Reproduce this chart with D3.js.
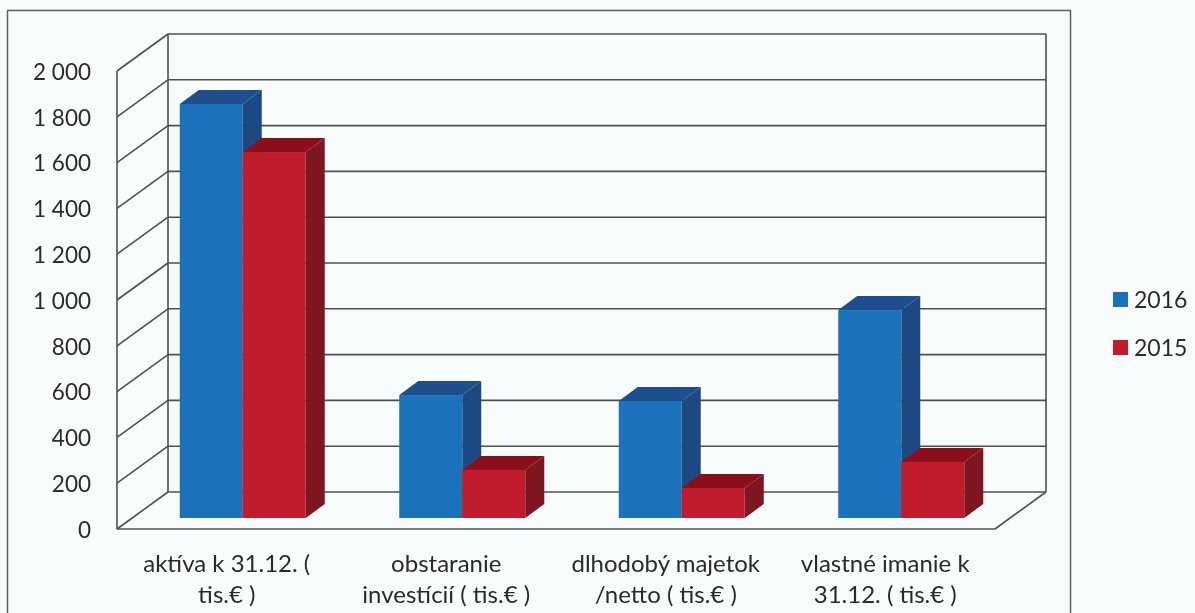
<!DOCTYPE html>
<html>
<head>
<meta charset="utf-8">
<script src="https://cdn.jsdelivr.net/npm/d3@7"></script>
<style>
  html, body { margin: 0; padding: 0; background: #f8fcfd; overflow: hidden; }
  text { font-family: Lato, "Open Sans", sans-serif; fill: #2b2b2b; }
</style>
</head>
<body>
<div id="chart"></div>
<script>
// data
const categories = ["aktíva", "obstaranie", "dlhodobý", "vlastné"];
const categoryLines = [
  ["aktíva k 31.12. (", "tis.€ )"],
  ["obstaranie", "investícií ( tis.€ )"],
  ["dlhodobý majetok", "/netto ( tis.€ )"],
  ["vlastné imanie k", "31.12. ( tis.€ )"]
];
const seriesNames = ["2016", "2015"];
const values2016 = [1808, 537, 511, 908];
const values2015 = [1598, 210, 131, 245];
const yTicks = [0, 200, 400, 600, 800, 1000, 1200, 1400, 1600, 1800, 2000];

const colors = {
  "2016": { front: "#1b71bb", side: "#1f4a82", top: "#1e4f8c" },
  "2015": { front: "#c01a2e", side: "#7e1522", top: "#8c0f1e" }
};

const width = 1195, height = 613;

// depth of the 3d box, and of the bars inside it
const depth = { x: 51, y: -37 };
const barOffset = { x: 16, y: -11 };
const barDepth = { x: 19, y: -14 };

const svg = d3.select("#chart").append("svg")
  .attr("width", width)
  .attr("height", height)
  .style("display", "block");

const defs = svg.append("defs");
defs.append("filter").attr("id", "scan")
  .append("feGaussianBlur").attr("stdDeviation", 0.45);

const root = svg.append("g").attr("filter", "url(#scan)");

const x0 = d3.scaleBand().domain(categories).range([117, 995]);
const x1 = d3.scaleBand().domain(seriesNames).range([0, 126]);
const y = d3.scaleLinear().domain([0, 2000]).range([529, 71]);

// outer frame, runs off the bottom of the page
root.append("rect")
  .attr("x", 7.5).attr("y", 10.5)
  .attr("width", 1063).attr("height", 640)
  .attr("fill", "none")
  .attr("stroke", "#5f5f5f")
  .attr("stroke-width", 1.5);

// 3d walls
const grid = root.append("g")
  .attr("fill", "none")
  .attr("stroke", "#505050")
  .attr("stroke-width", 1.6);

yTicks.forEach(t => {
  // back wall
  grid.append("line")
    .attr("x1", x0.range()[0] + depth.x).attr("x2", x0.range()[1] + depth.x)
    .attr("y1", y(t) + depth.y).attr("y2", y(t) + depth.y);
  // side wall
  grid.append("line")
    .attr("x1", x0.range()[0]).attr("x2", x0.range()[0] + depth.x)
    .attr("y1", y(t)).attr("y2", y(t) + depth.y);
});

grid.append("line")
  .attr("x1", x0.range()[0]).attr("x2", x0.range()[0])
  .attr("y1", y(0)).attr("y2", y(2000));
grid.append("line")
  .attr("x1", x0.range()[0] + depth.x).attr("x2", x0.range()[0] + depth.x)
  .attr("y1", y(0) + depth.y).attr("y2", y(2000) + depth.y);
grid.append("line")
  .attr("x1", x0.range()[1] + depth.x).attr("x2", x0.range()[1] + depth.x)
  .attr("y1", y(0) + depth.y).attr("y2", y(2000) + depth.y);
// floor
grid.append("line")
  .attr("x1", x0.range()[0]).attr("x2", x0.range()[1])
  .attr("y1", y(0)).attr("y2", y(0));
grid.append("line")
  .attr("x1", x0.range()[1]).attr("x2", x0.range()[1] + depth.x)
  .attr("y1", y(0)).attr("y2", y(0) + depth.y);

// y axis labels
const yAxis = d3.axisLeft(y)
  .tickValues(yTicks)
  .tickSize(0)
  .tickPadding(26)
  .tickFormat(d => d3.format(",")(d).replace(",", " "));

root.append("g")
  .attr("transform", `translate(${x0.range()[0]},1)`)
  .call(yAxis)
  .call(g => g.select(".domain").remove())
  .selectAll("text")
  .attr("font-size", 22.5)
  .style("font-family", 'Lato, "Open Sans", sans-serif');

// bars, one prism per value
const bars = root.append("g");
const seriesValues = [values2016, values2015];

categories.forEach((cat, i) => {
  seriesNames.forEach((name, s) => {
    const c = colors[name];
    const left = x0(cat) + (x0.bandwidth() - x1.range()[1]) / 2 + x1(name) + barOffset.x;
    const right = left + x1.bandwidth();
    const top = y(seriesValues[s][i]) + barOffset.y;
    const base = y(0) + barOffset.y;
    const g = bars.append("g");

    g.append("polygon")
      .attr("fill", c.side)
      .attr("points", [[right, top], [right + barDepth.x, top + barDepth.y],
        [right + barDepth.x, base + barDepth.y], [right, base]].join(" "));
    g.append("polygon")
      .attr("fill", c.top)
      .attr("points", [[left, top], [left + barDepth.x, top + barDepth.y],
        [right + barDepth.x, top + barDepth.y], [right, top]].join(" "));
    g.append("rect")
      .attr("x", left).attr("y", top)
      .attr("width", x1.bandwidth()).attr("height", base - top)
      .attr("fill", c.front);
  });
});

// category labels
const labels = root.append("g").attr("text-anchor", "middle").attr("font-size", 24);
categories.forEach((cat, i) => {
  const t = labels.append("text")
    .attr("x", x0(cat) + x0.bandwidth() / 2)
    .attr("y", 572);
  categoryLines[i].forEach((line, k) => {
    t.append("tspan")
      .attr("x", x0(cat) + x0.bandwidth() / 2)
      .attr("dy", k === 0 ? 0 : 31)
      .text(line);
  });
});

// legend
const legend = root.append("g");
const legendY = d3.scalePoint().domain(seriesNames).range([300, 348]);
seriesNames.forEach(name => {
  legend.append("rect")
    .attr("x", 1113).attr("y", legendY(name) - 8)
    .attr("width", 15).attr("height", 15)
    .attr("fill", colors[name].front);
  legend.append("text")
    .attr("x", 1134).attr("y", legendY(name) + 8)
    .attr("font-size", 23)
    .text(name);
});
</script>
</body>
</html>
